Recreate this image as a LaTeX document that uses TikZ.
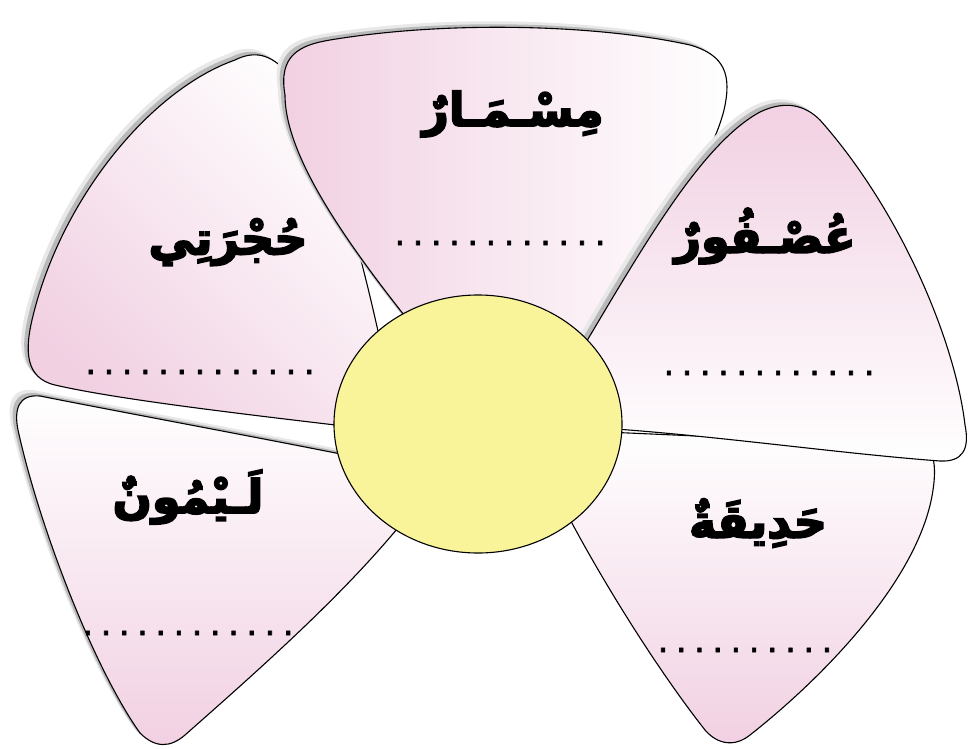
\documentclass[tikz,border=0pt]{standalone}
\usepackage{fontspec}
\newfontfamily\arabicfont[Script=Arabic, FakeBold=4]{DejaVu Sans}
\newfontfamily\dotfont[FakeBold=2]{DejaVu Sans}
\TeXXeTstate=1
\usetikzlibrary{shapes.geometric}
\definecolor{petalpink}{RGB}{241,208,226}
\definecolor{centeryellow}{RGB}{249,244,154}
\ExplSyntaxOn
\NewDocumentCommand\dotrow{m}{\prg_replicate:nn{#1-1}{.\hspace{7.4pt}}.}
\ExplSyntaxOff
\newcommand\pathTop{(490,420) .. controls (390,300) and (285,175) .. (285,95) .. controls (278,55) and (300,45) .. (330,40) .. controls (450,20) and (600,25) .. (690,45) .. controls (725,55) and (732,75) .. (724,110) .. controls (705,185) and (620,280) .. (540,390) -- cycle}
\newcommand\pathLT{(395,432) .. controls (250,415) and (120,400) .. (55,385) .. controls (25,378) and (25,350) .. (32,320) .. controls (60,200) and (150,90) .. (235,60) .. controls (255,50) and (270,55) .. (285,70) .. controls (330,130) and (360,250) .. (380,340) -- cycle}
\newcommand\pathLL{(420,470) .. controls (300,445) and (120,412) .. (40,396) .. controls (18,394) and (14,410) .. (18,430) .. controls (40,530) and (95,670) .. (140,733) .. controls (155,748) and (170,748) .. (185,735) .. controls (270,660) and (360,580) .. (420,500) -- cycle}
\newcommand\pathR{(545,410) .. controls (620,290) and (690,150) .. (760,112) .. controls (785,100) and (805,105) .. (820,120) .. controls (900,210) and (955,340) .. (965,425) .. controls (970,450) and (962,462) .. (940,461) .. controls (820,452) and (680,430) .. (545,425) -- cycle}
\newcommand\pathLR{(560,430) -- (925,446) .. controls (935,452) and (936,470) .. (933,490) .. controls (920,580) and (820,680) .. (750,735) .. controls (735,747) and (718,745) .. (705,730) .. controls (650,660) and (590,560) .. (560,500) -- cycle}
\tikzset{
  petalline/.style={draw=black, line width=1.1pt},
  shadowfar/.style={fill=gray!18, shift={(-7,-6)}},
  shadownear/.style={fill=gray!55, shift={(-4,-3)}},
  word/.style={font=\arabicfont\bfseries\fontsize{46}{50}\selectfont, inner sep=0pt},
  dotline/.style={font=\dotfont\fontsize{34}{34}\selectfont, inner sep=0pt},
}
\begin{document}
\begin{tikzpicture}[x=1pt,y=-1pt]
\useasboundingbox (0,0) rectangle (969,748);
\fill[white] (0,0) rectangle (969,748);
% lower-right petal
\shade[top color=white, bottom color=petalpink] \pathLR;
\draw[petalline] \pathLR;
% upper-left petal
\fill[shadowfar] \pathLT;
\fill[shadownear] \pathLT;
\shade[top color=white, bottom color=petalpink, shading angle=-45] \pathLT;
\draw[petalline] \pathLT;
% lower-left petal
\fill[shadowfar] \pathLL;
\fill[shadownear] \pathLL;
\shade[top color=white, bottom color=petalpink] \pathLL;
\draw[petalline] \pathLL;
% top petal
\fill[shadowfar] \pathTop;
\fill[shadownear] \pathTop;
\shade[left color=petalpink, right color=white] \pathTop;
\draw[petalline] \pathTop;
% right petal
\fill[shadowfar] \pathR;
\fill[shadownear] \pathR;
\shade[top color=petalpink, bottom color=white] \pathR;
\draw[petalline] \pathR;
% centre
\node[ellipse, draw=black, line width=1.1pt, fill=centeryellow, minimum width=288pt, minimum height=258pt, inner sep=0pt] (centre) at (478,424) {};
% words
\node[word] (wTop) at (513,114) {\beginR مِسْـمَـارٌ\endR};
\node[word] (wLT) at (228,242) {\beginR حُجْرَتِي\endR};
\node[word] (wR) at (765,236) {\beginR عُصْـفُورٌ\endR};
\node[word] (wLL) at (188,497) {\beginR لَـيْمُونٌ\endR};
\node[word] (wLR) at (758,523) {\beginR حَدِيقَةٌ\endR};
% dotted answer lines
\node[dotline] (dTop) at (500,243) {\dotrow{12}};
\node[dotline] (dLT) at (200,372) {\dotrow{13}};
\node[dotline] (dR) at (769,373) {\dotrow{12}};
\node[dotline] (dLL) at (188,633) {\dotrow{12}};
\node[dotline] (dLR) at (745,650) {\dotrow{10}};
\end{tikzpicture}
\end{document}
